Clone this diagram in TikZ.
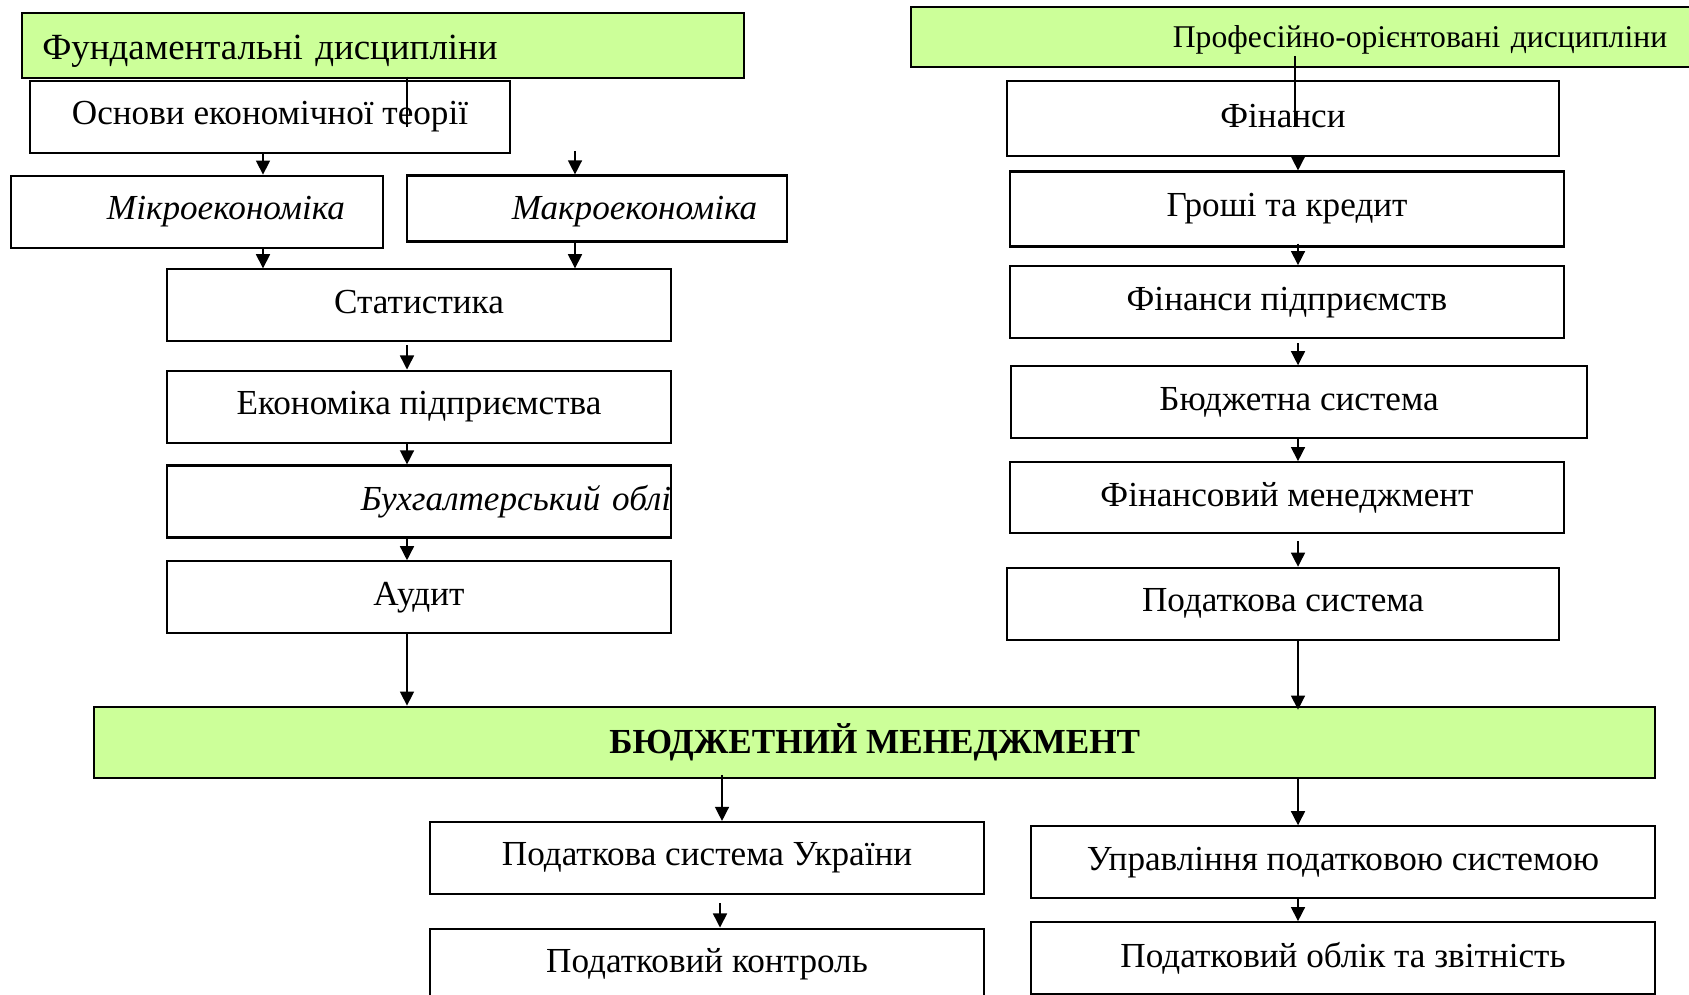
\documentclass[tikz,border=0pt]{standalone}
\usepackage{fontspec}
\setmainfont{Liberation Serif}
\usetikzlibrary{arrows.meta}

\definecolor{lightgreen}{RGB}{204,255,153}

% move a label down without changing the node size
\newcommand{\lowertext}[2]{\raisebox{-#1}[\height][\depth]{#2}}

\tikzset{
    box/.style={draw, line width=0.6pt, inner sep=0pt, align=center, font=\fontsize{10}{12}\selectfont},
    gbox/.style={box, fill=lightgreen},
    arr/.style={-{Triangle[length=4pt,width=4pt]}, line width=0.4pt},
}

\begin{document}
\begin{tikzpicture}[x=0.01cm, y=-0.01cm]
        \useasboundingbox (0,0) rectangle (1689,995);

        % left column
        \node[gbox, align=left, text width=6.81cm, inner xsep=0.2cm, minimum height=0.647cm, font=\fontsize{10.5}{12}\selectfont] (fund) at (383,45.3) {\lowertext{1.8pt}{Фундаментальні дисципліни}};
        \node[box, minimum width=4.79cm, minimum height=0.72cm] (osn) at (270,116.9) {Основи економічної теорії};
        \node[box, minimum width=3.71cm, minimum height=0.72cm, font=\fontsize{10}{12}\selectfont\itshape] (micro) at (197,211.7) {\hspace*{0.58cm}Мікроекономіка};
        \node[box, minimum width=3.79cm, minimum height=0.66cm, font=\fontsize{10}{12}\selectfont\itshape] (macro) at (597,208.5) {\hspace*{0.75cm}\lowertext{0.9pt}{Макроекономіка}};
        \node[box, minimum width=5.04cm, minimum height=0.72cm] (stat) at (419,305.4) {\lowertext{-0.9pt}{Статистика}};
        \node[box, minimum width=5.04cm, minimum height=0.72cm] (econ) at (419,406.6) {Економіка підприємства};
        \node[box, align=right, text width=5.04cm, minimum height=0.72cm, font=\fontsize{10}{12}\selectfont\itshape] (buh) at (419,501.5) {Бухгалтерський облі};
        \node[box, minimum width=5.04cm, minimum height=0.72cm] (audit) at (419,597.3) {Аудит};

        % right column
        \node[gbox, align=right, text width=7.31cm, inner xsep=0.25cm, minimum height=0.60cm, font=\fontsize{9}{11}\selectfont] (prof) at (1301.5,36.7) {\lowertext{0.9pt}{Професійно-орієнтовані дисципліни}};
        \node[box, minimum width=5.52cm, minimum height=0.75cm] (fin) at (1283,118.5) {\lowertext{-0.6pt}{Фінанси}};
        \node[box, minimum width=5.53cm, minimum height=0.75cm] (groshi) at (1287,209) {Гроші та кредит};
        \node[box, minimum width=5.53cm, minimum height=0.72cm] (finpid) at (1287,302.2) {Фінанси підприємств};
        \node[box, minimum width=5.76cm, minimum height=0.72cm] (budsys) at (1299,402.3) {Бюджетна система};
        \node[box, minimum width=5.53cm, minimum height=0.71cm] (finmen) at (1287,497.7) {Фінансовий менеджмент};
        \node[box, minimum width=5.52cm, minimum height=0.72cm] (podsys) at (1283,603.8) {Податкова система};

        % bottom part
        \node[gbox, minimum width=15.6cm, minimum height=0.71cm, font=\fontsize{10}{12}\selectfont\bfseries] (bm) at (874.7,742.2) {БЮДЖЕТНИЙ МЕНЕДЖМЕНТ};
        \node[box, minimum width=5.53cm, minimum height=0.72cm] (psu) at (707,858) {Податкова система України};
        \node[box, minimum width=6.24cm, minimum height=0.72cm] (ups) at (1343,862.3) {Управління податковою системою};
        \node[box, minimum width=5.53cm, minimum height=0.72cm] (pk) at (707,964.6) {Податковий контроль};
        \node[box, minimum width=6.24cm, minimum height=0.72cm] (poz) at (1343,958.2) {Податковий облік та звітність};

        \coordinate (xl) at (407,0);
        \coordinate (xmic) at (263,0);
        \coordinate (xr) at (1298,0);
        \coordinate (xpsu) at (722,0);
        \coordinate (xpk) at (720,0);
        \coordinate (osnin) at (407,127);
        \coordinate (finin) at (1295,127);
        \coordinate (macin) at (575,151);

        \draw[line width=0.4pt] (fund.south -| osnin) ++(0,-2) -- (osnin);
        \draw[arr] (osn.south -| xmic) -- (micro.north -| xmic);
        \draw[arr] (macin) -- (macro.north -| macin);
        \draw[arr] (micro.south -| xmic) -- (stat.north -| xmic);
        \draw[arr] (macro.south -| macin) -- (stat.north -| macin);
        \draw[arr, shorten <=0.03cm] (stat.south -| xl) -- (econ.north -| xl);
        \draw[arr] (econ.south -| xl) -- (buh.north -| xl);
        \draw[arr] (buh.south -| xl) -- (audit.north -| xl);
        \draw[arr] (audit.south -| xl) -- (bm.north -| xl);

        \draw[line width=0.4pt] (prof.south -| finin) ++(0,-12) -- (finin);
        \draw[arr, shorten <=-0.05cm] (fin.south -| xr) -- (groshi.north -| xr);
        \draw[arr, shorten <=-0.04cm] (groshi.south -| xr) -- (finpid.north -| xr);
        \draw[arr, shorten <=0.04cm] (finpid.south -| xr) -- (budsys.north -| xr);
        \draw[arr] (budsys.south -| xr) -- (finmen.north -| xr);
        \draw[arr, shorten <=0.07cm] (finmen.south -| xr) -- (podsys.north -| xr);
        \draw[arr, shorten >=-0.04cm] (podsys.south -| xr) -- (bm.north -| xr);

        \draw[arr, shorten <=-0.04cm] (bm.south -| xpsu) -- (psu.north -| xpsu);
        \draw[arr] (bm.south -| xr) -- (ups.north -| xr);
        \draw[arr, shorten <=0.08cm] (psu.south -| xpk) -- (pk.north -| xpk);
        \draw[arr] (ups.south -| xr) -- (poz.north -| xr);

\end{tikzpicture}
\end{document}
